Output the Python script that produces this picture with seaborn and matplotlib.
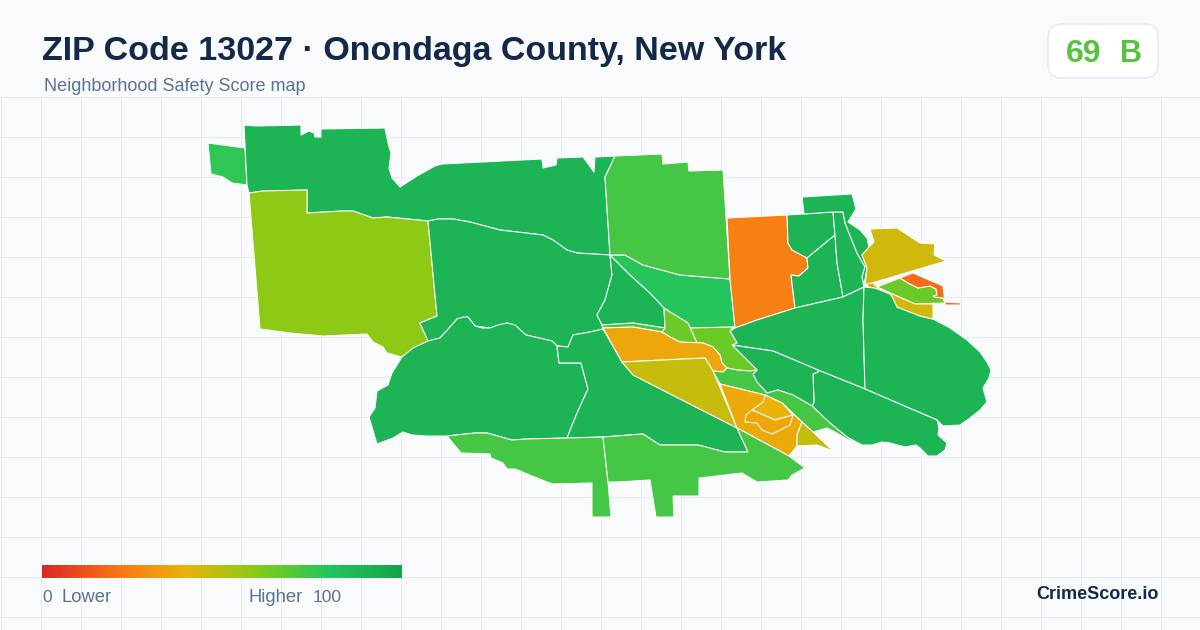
import numpy as np
import matplotlib
matplotlib.use("Agg")
import matplotlib.pyplot as plt
from matplotlib.patches import FancyBboxPatch, Rectangle
import seaborn as sns

# Page texts
title = "ZIP Code 13027 · Onondaga County, New York"
subtitle = "Neighborhood Safety Score map"
badge_score = "69"
badge_grade = "B"
brand = "CrimeScore.io"

# Colour scale stops, evenly spread from 0 to 100
scale_colors = ["#dc2626", "#f97316", "#eab308", "#84cc16", "#22c55e", "#16a34a"]
legend_values = list(range(0, 101))

# Tract outlines in pixels
nw_small = [(208,143),(245,148),(247,185),(232,183),(223,177),(211,174)]
nw_large = [(244,125),(256,126),(301,125),(301,135),(309,131),(314,133),(315,137),(321,137),(321,129),(385,128),
            (387,138),(389,147),(391,153),(389,168),(392,178),(400,187),(417,176),(435,166),(442,164),(542,159),
            (543,168),(556,165),(557,158),(583,157),(594,172),(595,157),(615,156),(605,177),(610,255),(577,253),
            (567,250),(553,240),(543,235),(500,230),(470,222),(453,219),(438,219),(428,221),(387,217),(373,218),
            (353,211),(342,211),(307,213),(307,190),(263,191),(249,193),(247,185)]
west_lime = [(249,193),(263,191),(307,190),(307,213),(342,211),(353,211),(373,218),(387,217),(428,221),(437,316),
             (420,323),(428,341),(415,349),(402,357),(387,353),(383,347),(373,342),(367,334),(323,336),(290,333),(260,329)]
west_sliver = [(377,391),(388,385),(392,373),(394,374),(391,386),(379,392)]
center_west = [(428,221),(438,219),(453,219),(470,222),(500,230),(543,235),(553,240),(567,250),(577,253),(610,255),
               (612,275),(605,300),(597,315),(602,325),(603,329),(590,332),(573,335),(568,347),(557,346),(552,341),(526,335),
               (517,327),(507,323),(490,328),(475,326),(468,317),(457,319),(450,327),(440,338),(428,341),(420,323),(437,316)]
southwest = [(402,357),(413,348),(428,341),(440,338),(450,327),(457,319),(463,317),(468,317),(472,322),(475,326),
             (482,328),(490,328),(498,325),(507,323),(515,325),(526,335),(552,341),(557,346),(568,347),(557,348),
             (559,363),(581,363),(588,389),(577,413),(567,438),(527,439),(512,440),(487,433),(475,433),(447,436),
             (427,436),(412,435),(403,432),(393,438),(377,444),(369,417),(375,408),(377,391),(388,385),(392,373)]
south_center = [(557,346),(568,347),(573,335),(590,332),(603,329),(622,362),(633,375),(737,428),(748,452),(725,452),
                (698,445),(660,445),(643,434),(603,437),(567,438),(577,413),(588,389),(581,363),(559,363)]
center_small = [(610,255),(630,275),(650,293),(664,308),(665,328),(633,323),(602,325),(597,315),(605,300),(612,275)]
center_bright = [(610,255),(625,255),(643,265),(680,275),(730,279),(735,327),(690,328),(688,323),(670,312),(664,308),
                 (650,293),(630,275)]
north_center = [(605,177),(615,156),(662,154),(663,164),(688,162),(689,171),(723,170),(730,279),(680,275),(643,265),
                (625,255),(610,255)]
north_orange = [(727,218),(787,215),(788,243),(792,250),(807,258),(808,268),(799,276),(791,275),(795,308),(757,320),
                (735,328),(730,279)]
ne_box_a = [(787,215),(833,212),(835,235),(807,258),(792,250),(788,243)]
ne_box_b = [(807,258),(835,235),(837,263),(843,297),(795,308),(791,275),(799,276),(808,268)]
ne_box_c = [(833,212),(843,212),(845,223),(857,253),(865,267),(862,277),(864,287),(843,297),(837,263),(835,235)]
ne_box_d = [(802,197),(852,194),(856,209),(848,222),(860,230),(867,238),(869,247),(862,255),(867,268),(864,285),
            (862,277),(865,267),(857,253),(845,223),(843,212),(833,212),(804,214)]
east_mid = [(735,328),(757,320),(795,308),(843,297),(864,287),(863,320),(865,389),(818,370),(773,351),(732,345),
            (737,343),(730,331)]
far_east = [(864,287),(875,288),(890,294),(893,298),(897,307),(920,316),(933,319),(950,328),(967,340),(980,352),
            (987,362),(991,370),(989,378),(983,388),(987,402),(980,410),(970,418),(960,425),(943,426),(937,420),
            (865,389),(863,320)]
southeast = [(818,370),(865,389),(937,420),(939,428),(938,435),(947,443),(945,450),(937,456),(928,456),(920,448),
             (916,445),(905,447),(890,443),(882,442),(872,445),(862,445),(847,437),(830,423),(812,406),(814,402),
             (813,374),(818,372)]
east_lower = [(732,345),(773,351),(818,370),(818,372),(813,374),(814,402),(812,406),(793,395),(778,390),(767,393),
              (757,382),(753,374),(757,370)]
center_lime = [(690,328),(733,327),(730,331),(737,343),(732,345),(757,370),(750,371),(737,370),(727,368),(722,363),
               (720,355),(713,347),(703,343),(697,343)]
center_lime_b = [(664,308),(670,312),(688,323),(697,343),(680,342),(670,337),(662,332),(665,328)]
band_sliver = [(602,325),(633,323),(665,328),(662,332),(633,327),(603,328)]
center_band = [(603,328),(633,327),(662,332),(670,337),(680,342),(703,343),(713,347),(720,355),(722,363),(727,368),
               (723,372),(713,371),(705,358),(663,360),(622,362)]
center_olive = [(622,362),(663,360),(705,358),(713,371),(737,428),(633,375)]
river_green = [(713,371),(723,372),(727,368),(737,370),(750,371),(757,370),(753,374),(757,382),(767,393),(778,390),
               (793,395),(812,406),(830,423),(847,437),(862,448),(835,432),(827,428),(813,432),(802,422),(782,403),
               (765,395),(720,384)]
city_base = [(720,384),(765,395),(782,403),(802,422),(797,435),(797,446),(789,456),(737,428)]
city_north = [(765,395),(782,403),(793,415),(775,420),(752,410),(763,402)]
city_mid = [(752,410),(775,420),(793,415),(790,425),(772,434),(762,430),(757,423),(745,422),(746,415)]
city_east = [(802,422),(813,432),(833,451),(817,445),(797,446),(797,435)]
south_a = [(447,436),(475,433),(487,433),(512,440),(527,439),(567,438),(603,437),(608,482),(611,517),(592,517),
           (592,483),(553,484),(547,482),(515,469),(507,469),(503,463),(491,458),(490,454),(461,453)]
south_b = [(603,437),(643,434),(660,445),(698,445),(725,452),(748,452),(737,428),(789,456),(805,468),(792,475),
           (788,480),(757,482),(742,473),(699,478),(699,496),(673,496),(674,517),(656,517),(650,480),(617,482),(608,482)]
ne_yellow = [(870,229),(897,228),(920,243),(935,244),(934,255),(946,261),(865,285),(867,268),(862,255),(869,247),(874,242)]
ne_lime = [(877,287),(900,278),(908,283),(918,288),(930,286),(936,289),(937,295),(933,296),(935,297),(943,298),(945,303),
           (915,304),(890,293)]
ne_orange = [(900,278),(913,273),(943,286),(945,303),(943,298),(935,297),(933,296),(937,295),(936,289),(930,286),(918,288),(908,283)]
ne_tail = [(945,302),(961,303),(961,305),(945,305)]
ne_gold = [(890,293),(915,304),(933,304),(933,319),(920,316),(897,307),(893,298)]
ne_corner = [(867,284),(873,283),(877,287),(890,293),(875,288),(868,287)]

zone_outlines = [nw_small, nw_large, west_lime, west_sliver, center_west, southwest, south_center, center_small,
                 center_bright, north_center, north_orange, ne_box_a, ne_box_b, ne_box_c, ne_box_d, east_mid,
                 far_east, southeast, east_lower, center_lime, center_lime_b, band_sliver, center_band, center_olive,
                 river_green, city_base, city_north, city_mid, city_east, south_a, south_b, ne_yellow, ne_lime,
                 ne_orange, ne_tail, ne_gold, ne_corner]
zone_scores = [77, 90, 58, 58, 90, 90, 90, 90,
               79, 73, 24, 90, 90, 90, 90, 90,
               90, 90, 90, 65, 65, 73, 36, 47,
               73, 37, 40, 36, 47, 73, 73, 45, 65,
               18, 18, 45, 37]

sns.set_theme(style="white")
plt.rcParams["font.family"] = ["Liberation Sans", "DejaVu Sans"]

safety_cmap = sns.blend_palette(scale_colors, as_cmap=True)

fig = plt.figure(figsize=(12, 6.3), dpi=100, facecolor="#f8fafc")
ax = fig.add_axes([0, 0, 1, 1], facecolor="#f8fafc")
ax.set_xlim(0, 1200)
ax.set_ylim(630, 0)

# Background grid, hidden behind the header strip
ax.set_xticks(np.arange(1, 1200, 40))
ax.set_yticks(np.arange(97, 630, 40))
ax.set_axisbelow(True)
ax.grid(True, color="#e5ebf3", linewidth=0.72)
ax.tick_params(length=0, labelbottom=False, labelleft=False)
sns.despine(ax=ax, left=True, bottom=True)
ax.add_patch(Rectangle((0, 0), 1200, 96.5, facecolor="#f8fafc", edgecolor="none", zorder=0.9))

# Map
for outline, score in zip(zone_outlines, zone_scores):
    xs, ys = zip(*outline)
    ax.fill(xs, ys, facecolor=safety_cmap(score / 100), edgecolor="white", linewidth=0.75, joinstyle="round", zorder=2)

# Header
ax.text(42, 60, title, fontsize=24.5, fontweight="bold", color="#14294a", zorder=5)
ax.text(44, 91, subtitle, fontsize=12.95, color="#5b7393", zorder=5)

# Score badge
ax.add_patch(FancyBboxPatch((1060, 36), 86, 30, boxstyle="round,pad=12,rounding_size=14",
                            facecolor="white", edgecolor="#e2e8f0", linewidth=1, zorder=4))
ax.text(1066, 62, badge_score, fontsize=23, fontweight="bold", color="#55c43c", zorder=5)
ax.text(1120, 62, badge_grade, fontsize=22, fontweight="bold", color="#55c43c", zorder=5)

# Legend bar
cax = fig.add_axes([42 / 1200, 1 - 578 / 630, 360 / 1200, 13 / 630])
sns.heatmap(np.array([legend_values]), ax=cax, cmap=safety_cmap, cbar=False, xticklabels=False, yticklabels=False,
            vmin=0, vmax=100)
ax.text(42, 602, "0", fontsize=12.6, color="#5b7393", zorder=5)
ax.text(61.5, 602, "Lower", fontsize=13.2, color="#5b7393", zorder=5)
ax.text(249, 602, "Higher", fontsize=13.2, color="#5b7393", zorder=5)
ax.text(313, 602, "100", fontsize=12.6, color="#5b7393", zorder=5)

# Brand
ax.text(1158.5, 599, brand, fontsize=13, fontweight="bold", color="#14294a", ha="right", zorder=5)

fig.savefig("out.png", dpi=100, facecolor=fig.get_facecolor())
